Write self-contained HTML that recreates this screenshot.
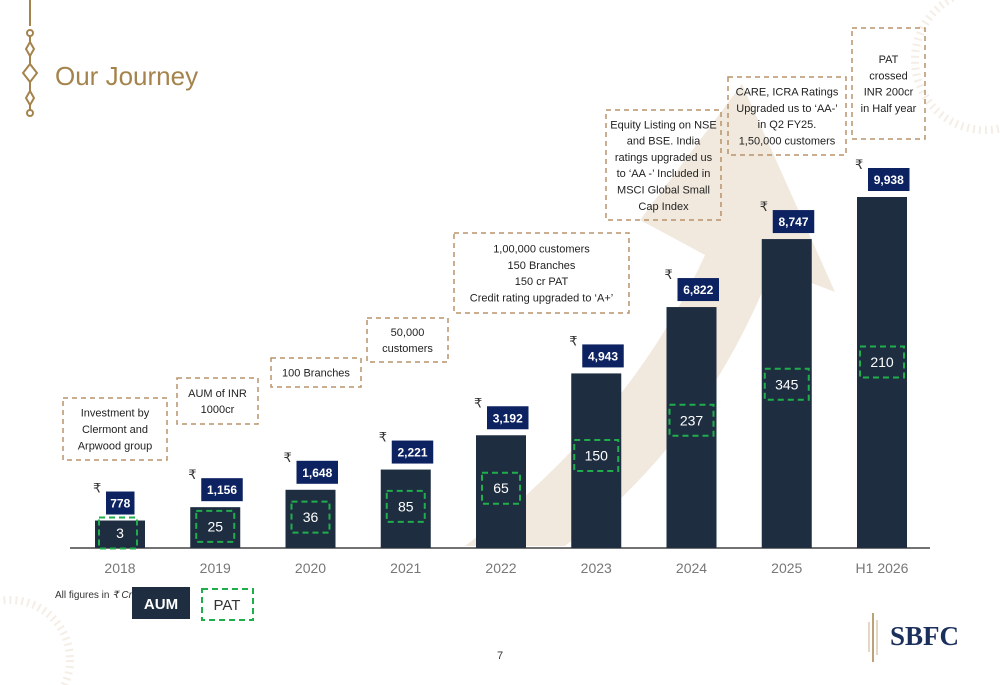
<!DOCTYPE html>
<html><head><meta charset="utf-8"><style>
html,body{margin:0;background:#fff;width:1000px;height:685px;overflow:hidden}
svg{display:block;font-family:"Liberation Sans",sans-serif}
</style></head><body>
<svg id="c" width="1000" height="685" viewBox="0 0 1000 685">
<g>
<path d="M465 546 Q630 420 705 255 L640 220 L742 84 L835 292 L772 268 Q705 440 565 546 Z" fill="#f1e9de"/>
<circle cx="985" cy="60" r="70" fill="none" stroke="#f4eee6" stroke-width="8" stroke-dasharray="2 4"/>
<circle cx="10" cy="660" r="60" fill="none" stroke="#f4eee6" stroke-width="8" stroke-dasharray="2 4"/>
<g stroke="#a5834c" stroke-width="2" fill="none">
<line x1="30" y1="0" x2="30" y2="26"/><circle cx="30" cy="33" r="3"/>
<line x1="30" y1="36" x2="30" y2="42"/><path d="M30 42 L34 49 L30 56 L26 49 Z"/>
<line x1="30" y1="56" x2="30" y2="64"/><path d="M30 64 L37 73 L30 82 L23 73 Z"/>
<line x1="30" y1="82" x2="30" y2="91"/><path d="M30 91 L34 98 L30 105 L26 98 Z"/>
<line x1="30" y1="105" x2="30" y2="110"/><circle cx="30" cy="113" r="3"/></g>
</g>
<text x="55" y="85" font-size="26" fill="#a5834c">Our Journey</text>
<line x1="70" y1="548" x2="930" y2="548" stroke="#444" stroke-width="1.5"/>
<g id="bars"></g>
<g id="notes" font-size="11" fill="#222" text-anchor="middle"></g>
<text x="55" y="598" font-size="10" fill="#333">All figures in <tspan font-style="italic">₹ Cr</tspan></text>
<rect x="132" y="587" width="58" height="32" fill="#1e2d40"/>
<text x="161" y="609" font-size="15" font-weight="bold" fill="#fff" text-anchor="middle">AUM</text>
<rect x="202" y="589" width="51" height="31" fill="none" stroke="#1fae4b" stroke-width="2" stroke-dasharray="6 4"/>
<text x="227" y="610" font-size="15" fill="#333" text-anchor="middle">PAT</text>
<text x="500" y="659" font-size="11" fill="#333" text-anchor="middle">7</text>
<g>
<line x1="873" y1="613" x2="873" y2="662" stroke="#a5834c" stroke-width="1.5"/>
<line x1="877" y1="620" x2="877" y2="655" stroke="#c9b08a" stroke-width="1"/>
<line x1="869" y1="622" x2="869" y2="652" stroke="#c9b08a" stroke-width="1"/>
<text x="890" y="645" font-family="Liberation Serif,serif" font-size="27" font-weight="bold" fill="#1b2f5c">SBFC</text>
</g>
</svg>
<script>
const categories=["2018","2019","2020","2021","2022","2023","2024","2025","H1 2026"];
const aumValues=[778,1156,1648,2221,3192,4943,6822,8747,9938];
const patValues=[3,25,36,85,65,150,237,345,210];
const aumLabels=["778","1,156","1,648","2,221","3,192","4,943","6,822","8,747","9,938"];
const NS="http://www.w3.org/2000/svg";
const base=548,x0=120,step=95.25,scale=351/9938,bw=50;
const xOf=i=>x0+i*step, hOf=v=>v*scale;
function mk(tag,attrs,parent,txt){const e=document.createElementNS(NS,tag);for(const k in attrs)e.setAttribute(k,attrs[k]);if(txt!==undefined)e.textContent=txt;parent.appendChild(e);return e;}
const g=document.getElementById('bars');
categories.forEach((c,i)=>{
 const cx=xOf(i),h=hOf(aumValues[i]),top=base-h;
 const b=mk('rect',{x:cx-bw/2,y:top,width:bw,height:h,fill:'#1e2d40'},g);
 
 
 const lw=aumLabels[i].length*6.5+9;
 const lb=mk('rect',{x:cx-14,y:top-29,width:lw,height:23,fill:'#0d2261'},g);
 
 
 const lt=mk('text',{x:cx-14+lw/2,y:top-13,'font-size':12,'font-weight':'bold',fill:'#fff','text-anchor':'middle'},g,aumLabels[i]);
 
 
 const rs=mk('text',{x:cx-27,y:top-28,'font-size':13,fill:'#333'},g,'₹');
 
 
 const pw=patValues[i]>=100?44:38, ph=31;
 const pc=Math.min(base-15,base-0.53*h);
 const pb=mk('rect',{x:cx-pw/2+(i==0?-2:0),y:pc-ph/2,width:pw,height:ph,fill:'none',stroke:'#1fae4b','stroke-width':2,'stroke-dasharray':'6 4'},g);
 
 
 const pt=mk('text',{x:cx,y:pc+5,'font-size':14,fill:'#fff','text-anchor':'middle'},g,String(patValues[i]));
 
 
 const xl=mk('text',{x:cx,y:573,'font-size':14,fill:'#777','text-anchor':'middle'},g,c);
 
 
});
const notes=[
 [63,398,104,62,["Investment by","Clermont and","Arpwood group"]],
 [177,378,81,46,["AUM of INR","1000cr"]],
 [271,358,90,29,["100 Branches"]],
 [367,318,81,44,["50,000","customers"]],
 [454,233,175,80,["1,00,000 customers","150 Branches","150 cr PAT","Credit rating upgraded to ‘A+’"]],
 [606,110,115,110,["Equity Listing on NSE","and BSE. India","ratings upgraded us","to ‘AA -’ Included in","MSCI Global Small","Cap Index"]],
 [728,77,118,78,["CARE, ICRA Ratings","Upgraded us to ‘AA-’","in Q2 FY25.","1,50,000 customers"]],
 [852,28,73,111,["PAT","crossed","INR 200cr","in Half year"]]];
const ng=document.getElementById('notes');
notes.forEach(n=>{
 const [x,y,w,h,lines]=n;
 const r=mk('rect',{x:x,y:y,width:w,height:h,fill:'none',stroke:'#b8936a','stroke-width':1.5,'stroke-dasharray':'5 4'},ng);
 
 
 const lh=16.3, start=y+h/2-(lines.length-1)*lh/2+4;
 lines.forEach((l,j)=>{const t=mk('text',{x:x+w/2,y:start+j*lh},ng,l);
  
  });
});
</script>
</body></html>
